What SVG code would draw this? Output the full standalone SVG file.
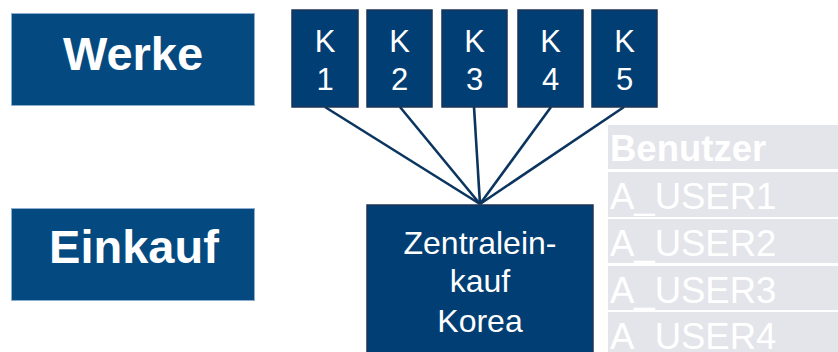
<svg xmlns="http://www.w3.org/2000/svg" width="838" height="352" viewBox="0 0 838 352">
<style>
.lbl{fill:#044a80;stroke:#8eaed0;stroke-width:1}
.k{fill:#003e73;stroke:#1c3556;stroke-width:1.5}
.t{font-family:"Liberation Sans",Arial,sans-serif;fill:#ffffff;text-anchor:middle}
.b{font-weight:bold;font-size:47px}
.kt{font-size:31px}
.zt{font-size:32px}
.cell{fill:#e4e5ea}
.ct{font-family:"Liberation Sans",Arial,sans-serif;fill:#ffffff;font-size:36.5px}
.conn line{stroke:#0b355f;stroke-width:2.6}
</style>
<rect width="838" height="352" fill="#ffffff"/>
<g id="werke"><rect class="lbl" x="11.5" y="13.5" width="243" height="92"/><text class="t b" x="133" y="70">Werke</text></g>
<g id="einkauf"><rect class="lbl" x="11.5" y="208.5" width="243" height="92"/><text class="t b" x="134" y="263">Einkauf</text></g>
<g class="conn" id="connectors">
<line x1="325" y1="107" x2="480" y2="204"/>
<line x1="400" y1="107" x2="480" y2="204"/>
<line x1="474" y1="107" x2="480" y2="204"/>
<line x1="551" y1="107" x2="480" y2="204"/>
<line x1="624" y1="107" x2="480" y2="204"/>
</g>
<g id="k1"><rect class="k" x="292" y="10" width="66" height="97"/><text class="t kt" x="325" y="52">K</text><text class="t kt" x="325" y="90">1</text></g>
<g id="k2"><rect class="k" x="367" y="10" width="65" height="97"/><text class="t kt" x="399.5" y="52">K</text><text class="t kt" x="399.5" y="90">2</text></g>
<g id="k3"><rect class="k" x="442" y="10" width="65" height="97"/><text class="t kt" x="474.5" y="52">K</text><text class="t kt" x="474.5" y="90">3</text></g>
<g id="k4"><rect class="k" x="518" y="10" width="65" height="97"/><text class="t kt" x="550.5" y="52">K</text><text class="t kt" x="550.5" y="90">4</text></g>
<g id="k5"><rect class="k" x="592" y="10" width="65" height="97"/><text class="t kt" x="624.5" y="52">K</text><text class="t kt" x="624.5" y="90">5</text></g>
<g id="zentraleinkauf"><rect class="k" x="367" y="205" width="226" height="150"/><text class="t zt" x="480" y="254">Zentralein-</text><text class="t zt" x="480" y="292">kauf</text><text class="t zt" x="480" y="332">Korea</text></g>
<g id="benutzer-table">
<rect class="cell" x="608" y="125" width="232" height="44"/><text class="ct" x="610" y="161" font-weight="bold">Benutzer</text>
<rect class="cell" x="608" y="172" width="232" height="45"/><text class="ct" x="610" y="209">A_USER1</text>
<rect class="cell" x="608" y="219" width="232" height="44"/><text class="ct" x="610" y="256">A_USER2</text>
<rect class="cell" x="608" y="266" width="232" height="44"/><text class="ct" x="610" y="303">A_USER3</text>
<rect class="cell" x="608" y="312" width="232" height="44"/><text class="ct" x="610" y="349">A_USER4</text>
</g>
</svg>
